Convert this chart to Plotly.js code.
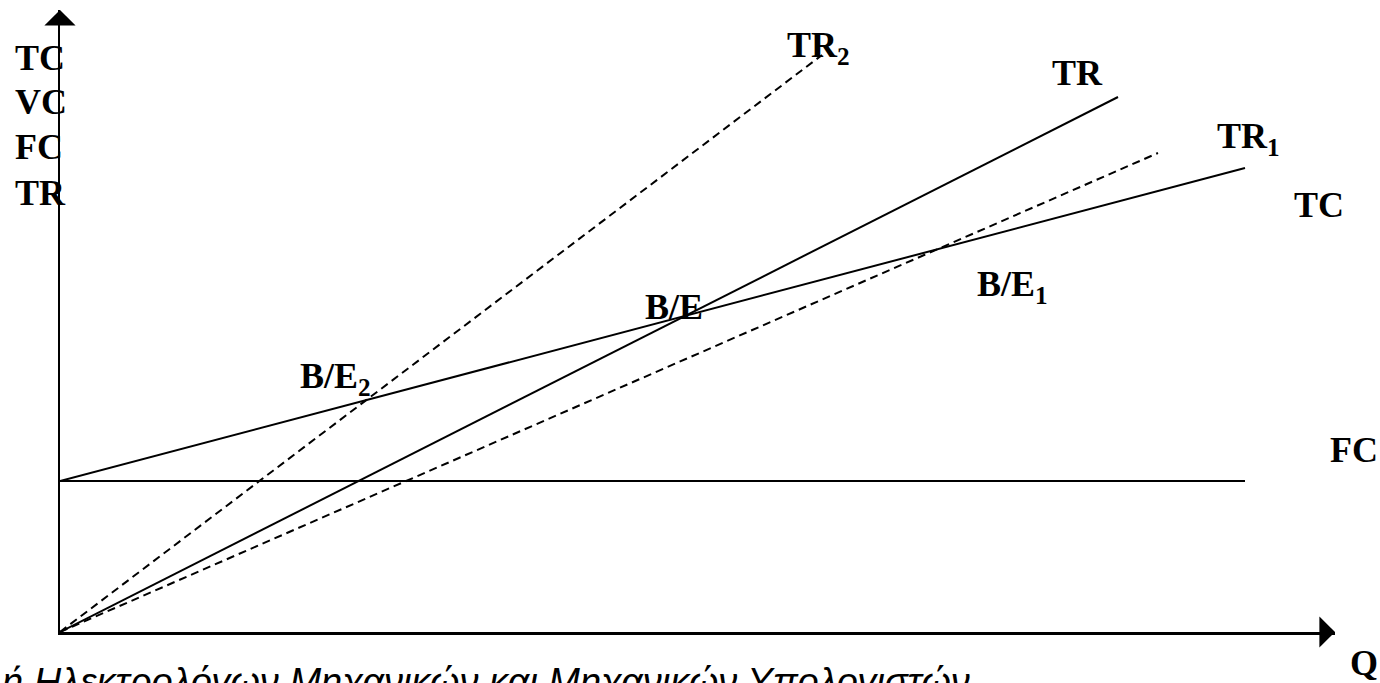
<!DOCTYPE html>
<html>
<head>
<meta charset="utf-8">
<script src="https://cdn.plot.ly/plotly-3.0.1.min.js"></script>
<style>html,body{margin:0;padding:0;background:#fff;}#chart{width:1380px;height:683px;}</style>
</head>
<body>
<div id="chart"></div>
<script>
// Quantity Q and cost/revenue values (arbitrary units)
const qCost = [0, 1185];
const fixedCost = [151, 151];
const totalCost = [151, 464];
const qTR = [0, 1058];
const revenueTR = [0, 535];
const qTR1 = [0, 1098];
const revenueTR1 = [0, 479];
const qTR2 = [0, 762];
const revenueTR2 = [0, 577];

const axisLabels = ['TC', 'VC', 'FC', 'TR'];
const lineLabels = ['TR<sub>2</sub>', 'TR', 'TR<sub>1</sub>', 'TC', 'FC'];
const breakEvenLabels = ['B/E<sub>2</sub>', 'B/E', 'B/E<sub>1</sub>'];
const xAxisLabel = 'Q';
const footerText = 'ή Ηλεκτρολόγων Μηχανικών και Μηχανικών Υπολογιστών';

const black = '#000';
const solid = {color: black, width: 2};
const dashed = {color: black, width: 2, dash: '8px,5px'};

const traces = [
  {x: qCost, y: fixedCost, mode: 'lines', line: solid, cliponaxis: false, hoverinfo: 'skip'},
  {x: qCost, y: totalCost, mode: 'lines', line: solid, cliponaxis: false, hoverinfo: 'skip'},
  {x: qTR, y: revenueTR, mode: 'lines', line: solid, cliponaxis: false, hoverinfo: 'skip'},
  {x: qTR1, y: revenueTR1, mode: 'lines', line: dashed, cliponaxis: false, hoverinfo: 'skip'},
  {x: qTR2, y: revenueTR2, mode: 'lines', line: dashed, cliponaxis: false, hoverinfo: 'skip'}
];

const labelFont = {family: 'Liberation Serif, Times New Roman, serif', size: 36, color: black, weight: 'bold'};
function lbl(text, x, y, ref) {
  return {text: '<b>' + text + '</b>', x: x, y: y, xref: ref || 'x', yref: ref ? 'paper' : 'y', showarrow: false,
          xanchor: 'left', yanchor: 'middle', font: labelFont};
}

const annotations = [];
const leftY = [0.9228, 0.8521, 0.7797, 0.7058];
axisLabels.forEach((t, i) => annotations.push(lbl(t, -0.0369, leftY[i], 'paper')));
const lineLabelPos = [[725, 585], [990, 559], [1155, 494], [1232, 427], [1268, 182]];
lineLabels.forEach((t, i) => annotations.push(lbl(t, lineLabelPos[i][0], lineLabelPos[i][1])));
const bePos = [[238, 254], [583, 325], [915, 346]];
breakEvenLabels.forEach((t, i) => annotations.push(lbl(t, bePos[i][0], bePos[i][1])));
annotations.push(lbl(xAxisLabel, 1.0102, -0.0498, 'paper'));

// axis arrowheads
annotations.push({x: 1275, y: 0, ax: 1262, ay: 0, axref: 'x', ayref: 'y', xref: 'x', yref: 'y',
  text: '', showarrow: true, arrowhead: 1, arrowsize: 2.6, arrowwidth: 2, arrowcolor: black, standoff: 0});
annotations.push({x: 0, y: 622, ax: 0, ay: 609, axref: 'x', ayref: 'y', xref: 'x', yref: 'y',
  text: '', showarrow: true, arrowhead: 1, arrowsize: 2.6, arrowwidth: 2, arrowcolor: black, standoff: 0});

// footer text (cut at the bottom edge)
annotations.push({text: '<i>' + footerText + '</i>', x: -0.0471, y: -0.0434, xref: 'paper', yref: 'paper', showarrow: false,
  xanchor: 'left', yanchor: 'top', font: {family: 'Liberation Sans, Arial, sans-serif', size: 38, color: black}});

const layout = {
  width: 1380, height: 683,
  margin: {l: 60, r: 45, t: 10, b: 51, pad: 0},
  paper_bgcolor: '#fff', plot_bgcolor: '#fff',
  showlegend: false,
  xaxis: {range: [0, 1275], showgrid: false, zeroline: false, showticklabels: false, ticks: '',
          showline: true, linecolor: black, linewidth: 2.5, fixedrange: true},
  yaxis: {range: [0, 622], showgrid: false, zeroline: false, showticklabels: false, ticks: '',
          showline: true, linecolor: black, linewidth: 2.5, fixedrange: true},
  annotations: annotations
};

Plotly.newPlot('chart', traces, layout, {displayModeBar: false, staticPlot: true});
</script>
</body>
</html>
